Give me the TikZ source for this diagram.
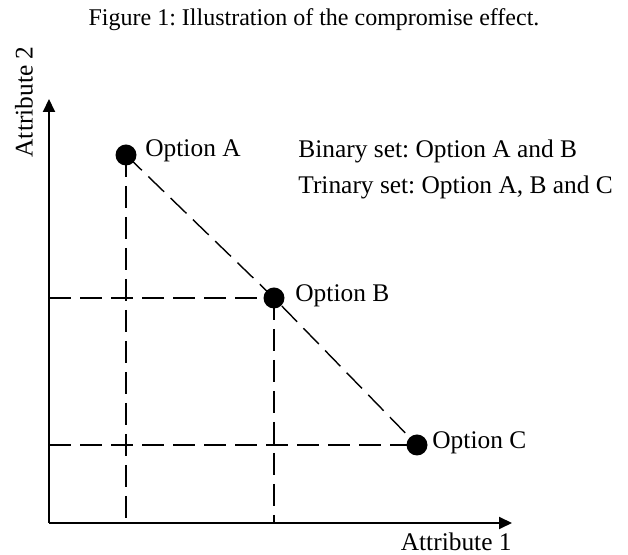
\documentclass[tikz,border=0pt]{standalone}
\usepackage{fontspec}
\setmainfont{Liberation Serif}
\usetikzlibrary{arrows.meta}
\begin{document}
\frenchspacing
\begin{tikzpicture}[x=0.5pt,y=-0.5pt,
  dot/.style={circle,fill=black,inner sep=0pt,minimum size=10.5pt},
  lbl/.style={inner sep=0pt,font=\fontsize{12.7}{14}\selectfont},
  axis/.style={line width=1pt,-{Triangle[length=6.5pt,width=6pt]}},
  guide/.style={line width=0.7pt,dash pattern=on 11pt off 4.5pt}]
\useasboundingbox (0,0) rectangle (628,555);
\node[lbl,font=\fontsize{12}{14}\selectfont] (cap) at (314,20) {Figure 1: Illustration of the compromise effect.};
\coordinate (O) at (49,523);
\coordinate (Ytip) at (49,99);
\coordinate (Xtip) at (512,523);
\node[dot] (A) at (126,155) {};
\node[dot] (B) at (274,298) {};
\node[dot] (C) at (417,445) {};
\draw[guide] (A.center) -- (B.center) -- (C.center);
\draw[guide] (A.center) -- (A |- O);
\draw[guide] (B.center) -- (B |- O);
\draw[guide] (O |- B) -- (B.center);
\draw[guide] (O |- C) -- (C.center);
\draw[axis] (O) -- (Ytip);
\draw[axis] (O) -- (Xtip);
\node[lbl,anchor=west] (la) at (145,151) {Option A};
\node[lbl,anchor=west] (lb) at (295,296) {Option B};
\node[lbl,anchor=west] (lc) at (432,443) {Option C};
\node[lbl,anchor=west] (bin) at (298,151) {Binary set: Option A and B};
\node[lbl,anchor=west] (tri) at (298,187) {Trinary set: Option A, B and C};
\node[lbl,anchor=east] (x1) at (512,542) {Attribute 1};
\node[lbl,rotate=90] (y2) at (24,102) {Attribute 2};
\end{tikzpicture}
\end{document}
